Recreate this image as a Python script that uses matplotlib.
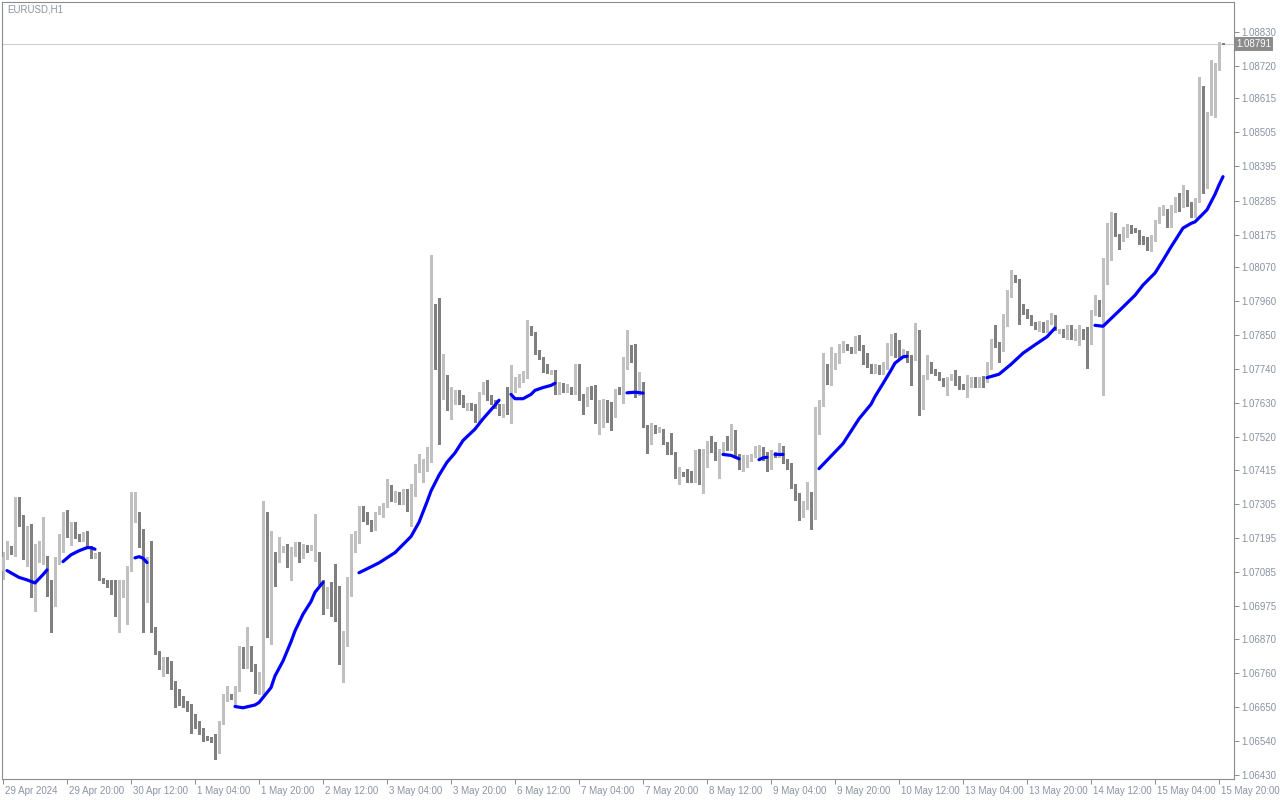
import numpy as np
import matplotlib
matplotlib.use("Agg")
import matplotlib.pyplot as plt
import matplotlib.transforms as mtransforms

# ---------------- data (EURUSD H1) ----------------
opens = [
1.07090,1.07133,1.07165,1.07149,1.07277,1.07244,1.07131,1.07168,1.07047,1.07138,
1.07133,1.07131,1.07020,1.06982,1.07122,1.07155,1.07244,1.07205,1.07235,1.07203,
1.07189,1.07189,1.07165,1.07133,1.07138,1.07063,1.07058,1.07049,1.07044,1.06977,
1.07034,1.07036,1.07095,1.07257,1.07273,1.07189,1.06995,1.07036,1.06901,1.06826,
1.06777,1.06793,1.06772,1.06713,1.06702,1.06669,1.06664,1.06648,1.06605,1.06594,
1.06578,1.06553,1.06549,1.06542,1.06502,1.06599,1.06670,1.06686,1.06678,1.06707,
1.06831,1.06793,1.06820,1.06783,1.06702,1.06734,1.07275,1.06880,1.07120,1.07120,
1.07152,1.07160,1.07106,1.07144,1.07176,1.07135,1.07171,1.07160,1.07146,1.07144,
1.07047,1.07020,1.07030,1.07016,1.07003,1.06853,1.06872,1.07041,1.07154,1.07181,
1.07295,1.07262,1.07241,1.07224,1.07275,1.07291,1.07300,1.07362,1.07322,1.07338,
1.07311,1.07346,1.07289,1.07332,1.07413,1.07415,1.07421,1.07446,1.07920,1.07969,
1.07647,1.07683,1.07627,1.07640,1.07667,1.07633,1.07618,1.07629,1.07613,1.07575,
1.07663,1.07693,1.07645,1.07637,1.07620,1.07599,1.07618,1.07605,1.07672,1.07686,
1.07710,1.07715,1.07866,1.07855,1.07790,1.07778,1.07733,1.07730,1.07737,1.07663,
1.07674,1.07670,1.07674,1.07661,1.07739,1.07645,1.07627,1.07677,1.07648,1.07569,
1.07629,1.07633,1.07629,1.07588,1.07681,1.07667,1.07747,1.07801,1.07769,1.07677,
1.07697,1.07555,1.07503,1.07553,1.07540,1.07545,1.07502,1.07487,1.07469,1.07392,
1.07405,1.07405,1.07405,1.07394,1.07438,1.07370,1.07430,1.07502,1.07480,1.07454,
1.07467,1.07499,1.07483,1.07539,1.07458,1.07422,1.07446,1.07448,1.07462,1.07473,
1.07483,1.07456,1.07422,1.07467,1.07461,1.07465,1.07440,1.07433,1.07361,1.07336,
1.07268,1.07293,1.07338,1.07260,1.07584,1.07626,1.07755,1.07693,1.07750,1.07764,
1.07801,1.07814,1.07801,1.07796,1.07841,1.07809,1.07787,1.07753,1.07731,1.07750,
1.07728,1.07756,1.07801,1.07803,1.07801,1.07788,1.07795,1.07778,1.07774,1.07861,
1.07629,1.07712,1.07756,1.07734,1.07726,1.07710,1.07693,1.07707,1.07720,1.07713,
1.07688,1.07677,1.07702,1.07706,1.07685,1.07709,1.07706,1.07745,1.07833,1.07820,
1.07804,1.07882,1.07974,1.08033,1.08030,1.07943,1.07928,1.07907,1.07887,1.07879,
1.07885,1.07882,1.07890,1.07911,1.07860,1.07864,1.07859,1.07868,1.07846,1.07860,
1.07866,1.07860,1.07825,1.07918,1.07957,1.07914,1.08022,1.08176,1.08241,1.08168,
1.08162,1.08184,1.08192,1.08192,1.08168,1.08165,1.08161,1.08130,1.08159,1.08216,
1.08243,1.08254,1.08202,1.08263,1.08295,1.08275,1.08292,1.08275,1.08238,1.08284,
1.08607,1.08342,1.08566,1.08590,1.08709,1.08793]
highs = [
1.07149,1.07187,1.07170,1.07327,1.07327,1.07268,1.07235,1.07241,1.07176,1.07187,
1.07262,1.07138,1.07058,1.07133,1.07209,1.07279,1.07287,1.07246,1.07246,1.07208,
1.07214,1.07217,1.07168,1.07146,1.07149,1.07066,1.07061,1.07058,1.07058,1.07058,
1.07058,1.07106,1.07343,1.07343,1.07279,1.07225,1.07133,1.07187,1.06907,1.06830,
1.06810,1.06810,1.06799,1.06734,1.06707,1.06686,1.06670,1.06659,1.06626,1.06605,
1.06583,1.06556,1.06552,1.06562,1.06605,1.06691,1.06718,1.06690,1.06718,1.06847,
1.06842,1.06907,1.06847,1.06788,1.06761,1.07316,1.07279,1.07219,1.07149,1.07198,
1.07168,1.07176,1.07165,1.07182,1.07182,1.07176,1.07174,1.07171,1.07273,1.07149,
1.07058,1.07036,1.07052,1.07111,1.07041,1.06896,1.07070,1.07208,1.07219,1.07297,
1.07297,1.07278,1.07252,1.07280,1.07300,1.07307,1.07386,1.07365,1.07348,1.07343,
1.07354,1.07354,1.07370,1.07435,1.07467,1.07451,1.07489,1.08108,1.07952,1.07970,
1.07790,1.07720,1.07683,1.07672,1.07672,1.07656,1.07632,1.07632,1.07629,1.07667,
1.07699,1.07704,1.07656,1.07642,1.07629,1.07629,1.07683,1.07753,1.07715,1.07726,
1.07734,1.07900,1.07879,1.07860,1.07801,1.07780,1.07756,1.07738,1.07739,1.07699,
1.07696,1.07693,1.07683,1.07756,1.07758,1.07661,1.07683,1.07685,1.07688,1.07640,
1.07645,1.07640,1.07634,1.07677,1.07683,1.07780,1.07866,1.07817,1.07823,1.07731,
1.07699,1.07559,1.07566,1.07559,1.07553,1.07548,1.07505,1.07534,1.07472,1.07424,
1.07408,1.07419,1.07413,1.07480,1.07483,1.07483,1.07510,1.07523,1.07505,1.07483,
1.07505,1.07526,1.07564,1.07543,1.07465,1.07462,1.07462,1.07467,1.07491,1.07494,
1.07489,1.07472,1.07480,1.07472,1.07502,1.07491,1.07451,1.07437,1.07370,1.07340,
1.07316,1.07375,1.07343,1.07618,1.07640,1.07791,1.07758,1.07812,1.07791,1.07823,
1.07831,1.07823,1.07812,1.07847,1.07850,1.07817,1.07791,1.07758,1.07758,1.07753,
1.07764,1.07825,1.07855,1.07857,1.07834,1.07805,1.07800,1.07785,1.07890,1.07866,
1.07720,1.07785,1.07764,1.07742,1.07731,1.07713,1.07715,1.07724,1.07737,1.07717,
1.07693,1.07720,1.07715,1.07715,1.07715,1.07717,1.07763,1.07839,1.07882,1.07828,
1.07920,1.07995,1.08060,1.08044,1.08033,1.07952,1.07936,1.07914,1.07893,1.07896,
1.07893,1.07898,1.07922,1.07914,1.07870,1.07871,1.07882,1.07882,1.07871,1.07882,
1.07871,1.07877,1.07930,1.07979,1.07963,1.08098,1.08213,1.08248,1.08245,1.08178,
1.08198,1.08209,1.08205,1.08195,1.08189,1.08170,1.08168,1.08173,1.08222,1.08265,
1.08270,1.08259,1.08270,1.08297,1.08308,1.08335,1.08319,1.08281,1.08292,1.08685,
1.08655,1.08572,1.08739,1.08730,1.08798,1.08795]
lows = [
1.07063,1.07128,1.07144,1.07138,1.07235,1.07128,1.07106,1.07004,1.06961,1.07117,
1.07111,1.07009,1.06891,1.06977,1.07111,1.07149,1.07198,1.07171,1.07196,1.07185,
1.07185,1.07165,1.07132,1.07130,1.07058,1.07049,1.07038,1.07014,1.06944,1.06891,
1.07004,1.06917,1.07090,1.07246,1.07165,1.06891,1.06988,1.06891,1.06820,1.06772,
1.06750,1.06760,1.06707,1.06648,1.06655,1.06648,1.06637,1.06567,1.06583,1.06562,
1.06540,1.06542,1.06538,1.06481,1.06500,1.06594,1.06669,1.06675,1.06653,1.06702,
1.06777,1.06777,1.06767,1.06696,1.06691,1.06691,1.06874,1.06853,1.07041,1.07117,
1.07149,1.07101,1.07060,1.07138,1.07117,1.07130,1.07150,1.07155,1.07120,1.07047,
1.06950,1.06970,1.06944,1.06928,1.06788,1.06729,1.06847,1.07009,1.07149,1.07178,
1.07251,1.07241,1.07217,1.07222,1.07273,1.07262,1.07295,1.07316,1.07311,1.07305,
1.07305,1.07284,1.07235,1.07330,1.07408,1.07375,1.07413,1.07440,1.07742,1.07500,
1.07645,1.07607,1.07580,1.07629,1.07629,1.07618,1.07609,1.07610,1.07569,1.07569,
1.07661,1.07642,1.07629,1.07615,1.07591,1.07586,1.07596,1.07566,1.07667,1.07683,
1.07699,1.07713,1.07850,1.07790,1.07774,1.07731,1.07728,1.07726,1.07661,1.07659,
1.07667,1.07667,1.07659,1.07659,1.07642,1.07596,1.07623,1.07645,1.07566,1.07532,
1.07553,1.07569,1.07543,1.07586,1.07661,1.07631,1.07742,1.07764,1.07650,1.07656,
1.07553,1.07469,1.07499,1.07534,1.07536,1.07499,1.07467,1.07465,1.07390,1.07370,
1.07396,1.07375,1.07375,1.07375,1.07370,1.07340,1.07424,1.07473,1.07448,1.07389,
1.07465,1.07480,1.07478,1.07456,1.07419,1.07413,1.07424,1.07443,1.07458,1.07456,
1.07446,1.07411,1.07419,1.07456,1.07456,1.07437,1.07419,1.07357,1.07318,1.07252,
1.07264,1.07289,1.07225,1.07257,1.07532,1.07620,1.07691,1.07688,1.07742,1.07760,
1.07796,1.07801,1.07793,1.07793,1.07803,1.07758,1.07747,1.07728,1.07728,1.07724,
1.07724,1.07742,1.07785,1.07780,1.07774,1.07780,1.07765,1.07688,1.07771,1.07591,
1.07613,1.07709,1.07728,1.07720,1.07704,1.07685,1.07656,1.07704,1.07688,1.07677,
1.07676,1.07650,1.07683,1.07683,1.07683,1.07683,1.07700,1.07742,1.07812,1.07763,
1.07799,1.07879,1.07972,1.08022,1.07887,1.07920,1.07904,1.07882,1.07871,1.07864,
1.07860,1.07860,1.07885,1.07868,1.07858,1.07844,1.07839,1.07839,1.07833,1.07817,
1.07839,1.07745,1.07823,1.07914,1.07911,1.07656,1.08017,1.08092,1.08170,1.08130,
1.08155,1.08168,1.08181,1.08184,1.08146,1.08146,1.08125,1.08122,1.08155,1.08211,
1.08238,1.08200,1.08198,1.08248,1.08252,1.08265,1.08267,1.08232,1.08232,1.08281,
1.08308,1.08324,1.08561,1.08554,1.08707,1.08790]
closes = [
1.07133,1.07165,1.07149,1.07279,1.07243,1.07138,1.07176,1.07034,1.07138,1.07165,
1.07165,1.07020,1.06977,1.07122,1.07157,1.07246,1.07205,1.07238,1.07203,1.07189,
1.07205,1.07168,1.07135,1.07142,1.07060,1.07052,1.07041,1.07038,1.06977,1.07038,
1.07044,1.07095,1.07260,1.07273,1.07187,1.06991,1.07036,1.06896,1.06826,1.06775,
1.06793,1.06785,1.06713,1.06653,1.06667,1.06661,1.06643,1.06603,1.06594,1.06575,
1.06551,1.06546,1.06542,1.06502,1.06599,1.06682,1.06686,1.06678,1.06707,1.06831,
1.06793,1.06820,1.06783,1.06700,1.06734,1.07273,1.06880,1.07164,1.07100,1.07157,
1.07160,1.07106,1.07146,1.07176,1.07135,1.07171,1.07157,1.07168,1.07160,1.07049,
1.07020,1.07031,1.07012,1.07001,1.06855,1.06874,1.07068,1.07154,1.07181,1.07295,
1.07259,1.07246,1.07221,1.07278,1.07291,1.07305,1.07365,1.07322,1.07340,1.07311,
1.07348,1.07289,1.07332,1.07415,1.07421,1.07424,1.07448,1.07931,1.07744,1.07649,
1.07683,1.07627,1.07640,1.07667,1.07631,1.07621,1.07630,1.07613,1.07575,1.07663,
1.07693,1.07645,1.07637,1.07618,1.07599,1.07618,1.07605,1.07686,1.07688,1.07713,
1.07717,1.07866,1.07855,1.07793,1.07778,1.07733,1.07730,1.07733,1.07663,1.07688,
1.07670,1.07675,1.07661,1.07739,1.07645,1.07627,1.07677,1.07648,1.07575,1.07629,
1.07637,1.07627,1.07586,1.07661,1.07667,1.07747,1.07796,1.07767,1.07652,1.07693,
1.07555,1.07503,1.07553,1.07537,1.07548,1.07502,1.07487,1.07469,1.07392,1.07405,
1.07400,1.07397,1.07394,1.07437,1.07375,1.07433,1.07502,1.07480,1.07451,1.07469,
1.07499,1.07483,1.07539,1.07458,1.07422,1.07446,1.07451,1.07462,1.07476,1.07487,
1.07448,1.07422,1.07465,1.07463,1.07467,1.07440,1.07424,1.07361,1.07332,1.07268,
1.07295,1.07340,1.07260,1.07586,1.07626,1.07750,1.07693,1.07747,1.07767,1.07809,
1.07814,1.07810,1.07796,1.07839,1.07807,1.07785,1.07750,1.07731,1.07753,1.07728,
1.07758,1.07801,1.07803,1.07796,1.07788,1.07795,1.07774,1.07690,1.07861,1.07629,
1.07713,1.07750,1.07731,1.07724,1.07708,1.07688,1.07710,1.07720,1.07691,1.07681,
1.07680,1.07704,1.07709,1.07685,1.07709,1.07691,1.07745,1.07828,1.07817,1.07807,
1.07885,1.07974,1.08033,1.08028,1.07943,1.07925,1.07907,1.07885,1.07879,1.07890,
1.07871,1.07893,1.07911,1.07871,1.07868,1.07857,1.07868,1.07844,1.07860,1.07866,
1.07860,1.07825,1.07920,1.07954,1.07914,1.08025,1.08181,1.08241,1.08173,1.08159,
1.08184,1.08191,1.08184,1.08187,1.08162,1.08159,1.08130,1.08168,1.08216,1.08245,
1.08254,1.08202,1.08265,1.08292,1.08254,1.08292,1.08270,1.08238,1.08284,1.08607,
1.08342,1.08566,1.08593,1.08712,1.08793,1.08791]

# blue trend line: bar index and value, NaN separates the drawn pieces
ma_x = [1, 4, 6, 8, 10, 11, np.nan,
        15, 17, 19, 21, 22, 23, np.nan,
        33, 34, 35, 36, np.nan,
        58, 60, 63, 64, 65, 67, 68, 70, 72, 73, 75, 77, 78, 80, np.nan,
        89, 92, 94, 98, 100, 102, 104, 106, 107, 109, 111, 113, 115, 118, 120, 123, 124, np.nan,
        127, 128, 130, 132, 133, 135, 137, 138, np.nan,
        156, 158, 160, np.nan,
        180, 182, 184, np.nan,
        189, 190, 191, np.nan,
        193, 195, np.nan,
        204, 208, 210, 212, 214, 217, 218, 220, 222, 223, 225, 226, np.nan,
        246, 249, 252, 255, 258, 261, 263, np.nan,
        273, 275, 278, 280, 283, 285, 288, 290, 292, 295, 297, 298, 301, 303, 304, 305]
ma_y = [1.07090, 1.07068, 1.07060, 1.07050, 1.07077, 1.07092, np.nan,
        1.07119, 1.07141, 1.07154, 1.07164, 1.07164, 1.07159, np.nan,
        1.07131, 1.07135, 1.07130, 1.07116, np.nan,
        1.06651, 1.06647, 1.06656, 1.06664, 1.06680, 1.06712, 1.06750, 1.06798, 1.06860,
        1.06895, 1.06949, 1.06990, 1.07020, 1.07052, np.nan,
        1.07083, 1.07102, 1.07115, 1.07148, 1.07174, 1.07200, 1.07246, 1.07312, 1.07347,
        1.07398, 1.07440, 1.07470, 1.07510, 1.07547, 1.07580, 1.07624, 1.07640, np.nan,
        1.07659, 1.07645, 1.07645, 1.07659, 1.07672, 1.07681, 1.07688, 1.07695, np.nan,
        1.07664, 1.07666, 1.07663, np.nan,
        1.07465, 1.07462, 1.07451, np.nan,
        1.07448, 1.07454, 1.07456, np.nan,
        1.07465, 1.07465, np.nan,
        1.07419, 1.07473, 1.07500, 1.07540, 1.07580, 1.07627, 1.07652, 1.07694, 1.07737,
        1.07760, 1.07780, 1.07782, np.nan,
        1.07713, 1.07724, 1.07756, 1.07792, 1.07819, 1.07845, 1.07873, np.nan,
        1.07882, 1.07879, 1.07916, 1.07941, 1.07979, 1.08012, 1.08051, 1.08092, 1.08135,
        1.08196, 1.08211, 1.08216, 1.08255, 1.08305, 1.08335, 1.08362]

x_tick_labels = ["29 Apr 2024", "29 Apr 20:00", "30 Apr 12:00", "1 May 04:00", "1 May 20:00",
                 "2 May 12:00", "3 May 04:00", "3 May 20:00", "6 May 12:00", "7 May 04:00",
                 "7 May 20:00", "8 May 12:00", "9 May 04:00", "9 May 20:00", "10 May 12:00",
                 "13 May 04:00", "13 May 20:00", "14 May 12:00", "15 May 04:00", "15 May 20:00"]
x_tick_bars = [0, 16, 32, 48, 64, 80, 96, 112, 128, 144, 160, 176, 192, 208, 224, 240, 256, 272, 288, 304]
y_ticks = [1.08830, 1.08720, 1.08615, 1.08505, 1.08395, 1.08285, 1.08175, 1.08070, 1.07960,
           1.07850, 1.07740, 1.07630, 1.07520, 1.07415, 1.07305, 1.07195, 1.07085, 1.06975,
           1.06870, 1.06760, 1.06650, 1.06540, 1.06430]
last_price = 1.08791
title = "EURUSD,H1"

# ---------------- drawing ----------------
plt.rcParams["font.family"] = ["Liberation Sans", "DejaVu Sans"]
W, H = 1280, 800
fig = plt.figure(figsize=(W / 100, H / 100), dpi=100)
fig.patch.set_facecolor("white")
ax = fig.add_axes([2 / W, 21 / H, 1232 / W, 777 / H])
ax.set_facecolor("white")

BULL = "#c0c0c0"
BEAR = "#808080"
TXT = "#8a93a3"
FRAME = "#8c8c8c"

o = np.array(opens); h = np.array(highs); l = np.array(lows); c = np.array(closes)
idx = np.arange(len(o))
cols = np.where(c >= o, BULL, BEAR)

ax.vlines(idx, l, h, colors=cols, linewidth=0.75, antialiased=False, zorder=2)
body_bottom = np.minimum(o, c)
body_h = np.maximum(np.abs(c - o), 0.000035)
ax.bar(idx, body_h, bottom=body_bottom, width=0.75, color=cols, linewidth=0,
       antialiased=False, zorder=3)

ax.axhline(last_price, color="#cfcfcf", linewidth=0.8, zorder=1)

ax.plot(ma_x, ma_y, color="#0000ff", linewidth=2.3, solid_capstyle="round", zorder=4)

ax.set_xlim(-0.25, 307.75)
ax.set_ylim(1.064170, 1.089260)

for s in ax.spines.values():
    s.set_color(FRAME)
    s.set_linewidth(0.8)

ax.yaxis.tick_right()
ax.set_yticks(y_ticks)
ax.set_yticklabels([f"{v:.5f}" for v in y_ticks])
ax.tick_params(axis="y", direction="out", length=3.5, width=0.7, colors=FRAME,
               labelcolor=TXT, labelsize=7, pad=2)
ax.set_xticks(x_tick_bars)
ax.set_xticklabels(x_tick_labels)
ax.tick_params(axis="x", direction="out", length=3.5, width=0.7, colors=FRAME,
               labelcolor=TXT, labelsize=7, pad=1.5)
off = mtransforms.ScaledTranslation(2 / 100, 0, fig.dpi_scale_trans)
for lbl in ax.get_xticklabels():
    lbl.set_horizontalalignment("left")
    lbl.set_transform(lbl.get_transform() + off)

# current price label on the price scale
ax.text(1.0015, last_price, f"{last_price:.5f}", transform=ax.get_yaxis_transform(),
        ha="left", va="center", fontsize=7, color="white", zorder=6, clip_on=False,
        bbox=dict(boxstyle="square,pad=0.18", facecolor="#8c8c8c", edgecolor="none"))

fig.text(7 / W, 1 - 10 / H, title, ha="left", va="center", fontsize=7, color=TXT)

fig.savefig("out.png", dpi=100, facecolor="white")
